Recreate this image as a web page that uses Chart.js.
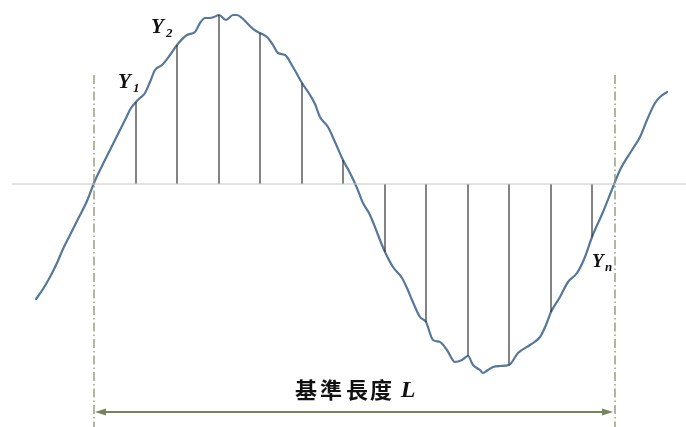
<!DOCTYPE html>
<html>
<head>
<meta charset="utf-8">
<script src="https://cdn.jsdelivr.net/npm/chart.js@4/dist/chart.umd.min.js"></script>
<style>
  html, body { margin: 0; padding: 0; background: #ffffff; }
  #wrap { width: 686px; height: 427px; position: relative; }
</style>
</head>
<body>
<div id="wrap"><canvas id="c"></canvas></div>
<script>
// Surface profile: position along the surface and height above the mean line
const profileX = [36, 43, 50, 57, 63, 70, 77, 87, 94, 102, 110, 118, 126, 131, 136, 140, 145, 150, 155, 162,
  170, 177, 187, 195, 200, 205, 210, 214, 219, 226, 233, 237, 242, 247, 252, 256, 260, 268, 273, 278,
  285, 293, 302, 310, 315, 320, 328, 335, 343, 350, 357, 363, 369, 373, 378, 385, 393, 402, 407, 412,
  420, 426, 433, 440, 447, 455, 462, 468, 473, 480, 483, 488, 493, 500, 509, 518, 530, 540, 546, 551,
  560, 568, 577, 585, 592, 603, 613, 620, 632, 640, 647, 655, 660, 667];
const profileY = [-115, -105, -93, -79, -65, -51, -37, -17, 1, 18, 34, 50, 66, 76, 82, 86, 91, 102, 114, 119,
  129, 139, 149, 152, 161, 166, 166, 167, 169, 164, 169, 169, 166, 161, 156, 153, 151, 146, 139, 131,
  129, 117, 101, 89, 80, 67, 57, 42, 24, 11, -4, -19, -29, -38, -51, -68, -83, -94, -104, -116,
  -133, -138, -156, -158, -166, -178, -176, -172, -181, -186, -189, -186, -183, -182, -181, -169, -161, -153, -141, -128,
  -113, -98, -89, -73, -53, -28, -3, 14, 34, 47, 64, 81, 87, 92];

// Sampled ordinates Y1 ... Yn within the sampling length
const sampleX = [136, 177, 219, 260, 302, 343, 385, 426, 468, 509, 551, 592];
const sampleY = [82, 139, 169, 151, 101, 24, -68, -138, -172, -181, -128, -53];

// Ends of the sampling length L
const lengthStart = 94;
const lengthEnd = 615;

// Label texts
const ordinateLabels = [['Y', '1'], ['Y', '2'], ['Y', 'n']];
const lengthLabel = ['基', '準', '長', '度'];
const lengthSymbol = 'L';

const profilePoints = profileX.map((x, i) => ({ x, y: profileY[i] }));
const ordinatePoints = [];
sampleX.forEach((x, i) => {
  ordinatePoints.push({ x, y: 0 }, { x, y: sampleY[i] }, { x, y: null });
});

const ARROW_Y = -228;
const BORDER_TOP = 109;
const BOTTOM = -243;

// Draws arrowheads on the length bar and the text labels
const annotate = {
  id: 'annotate',
  afterDatasetsDraw(chart) {
    const { ctx, scales: { x: sx, y: sy } } = chart;
    ctx.save();
    // arrowheads
    const ay = sy.getPixelForValue(ARROW_Y);
    const xl = sx.getPixelForValue(lengthStart) + 1;
    const xr = sx.getPixelForValue(lengthEnd) - 2;
    ctx.fillStyle = '#76845a';
    ctx.beginPath();
    ctx.moveTo(xl, ay); ctx.lineTo(xl + 11, ay - 3.5); ctx.lineTo(xl + 11, ay + 3.5); ctx.closePath(); ctx.fill();
    ctx.beginPath();
    ctx.moveTo(xr, ay); ctx.lineTo(xr - 11, ay - 3.5); ctx.lineTo(xr - 11, ay + 3.5); ctx.closePath(); ctx.fill();

    // ordinate labels (Y with subscript)
    const spots = [
      { x: 118, y: 96, sub: 15, subDy: 4 },
      { x: 151, y: 151, sub: 15, subDy: 4 },
      { x: 592, y: -83, sub: 13, subDy: 4 }
    ];
    ctx.fillStyle = '#111';
    ctx.textBaseline = 'alphabetic';
    ctx.textAlign = 'left';
    ordinateLabels.forEach((lab, i) => {
      const s = spots[i];
      const px = sx.getPixelForValue(s.x);
      const py = sy.getPixelForValue(s.y);
      ctx.font = i === 2 ? 'bold italic 19px "Liberation Serif"' : 'bold italic 21px "Liberation Serif"';
      ctx.fillText(lab[0], px, py);
      ctx.font = 'bold italic 13px "Liberation Serif"';
      ctx.fillText(lab[1], px + s.sub, py + s.subDy);
    });

    // sampling length caption
    ctx.textBaseline = 'middle';
    ctx.textAlign = 'center';
    ctx.font = 'bold 22px "Noto Sans CJK TC"';
    const cy = sy.getPixelForValue(-206);
    const centers = [306, 331, 357, 381];
    lengthLabel.forEach((ch, i) => ctx.fillText(ch, sx.getPixelForValue(centers[i]), cy));
    ctx.font = 'bold italic 24px "Liberation Serif"';
    ctx.fillText(lengthSymbol, sx.getPixelForValue(408), cy + 1);
    ctx.restore();
  }
};

new Chart(document.getElementById('c'), {
  type: 'scatter',
  data: {
    datasets: [
      { // mean line
        data: [{ x: 12, y: 0 }, { x: 686, y: 0 }],
        showLine: true, borderColor: '#c4c4c4', borderWidth: 1, pointRadius: 0
      },
      { // ordinates
        data: ordinatePoints,
        showLine: true, spanGaps: false, borderColor: '#333333', borderWidth: 1.2, pointRadius: 0
      },
      { // left border of sampling length
        data: [{ x: lengthStart, y: BORDER_TOP }, { x: lengthStart, y: BOTTOM }],
        showLine: true, borderColor: '#8e8e6a', borderWidth: 1.3, borderDash: [9, 3, 1.5, 3], pointRadius: 0
      },
      { // right border of sampling length
        data: [{ x: lengthEnd, y: BORDER_TOP }, { x: lengthEnd, y: BOTTOM }],
        showLine: true, borderColor: '#8e8e6a', borderWidth: 1.3, borderDash: [9, 3, 1.5, 3], pointRadius: 0
      },
      { // sampling length bar
        data: [{ x: lengthStart + 4, y: ARROW_Y }, { x: lengthEnd - 5, y: ARROW_Y }],
        showLine: true, borderColor: '#76845a', borderWidth: 2, pointRadius: 0
      },
      { // profile
        data: profilePoints,
        showLine: true, borderColor: '#56789a', borderWidth: 2.2, pointRadius: 0,
        cubicInterpolationMode: 'monotone', borderCapStyle: 'round', borderJoinStyle: 'round'
      }
    ]
  },
  options: {
    responsive: true,
    maintainAspectRatio: false,
    animation: false,
    layout: { padding: 0 },
    plugins: { legend: { display: false }, tooltip: { enabled: false } },
    scales: {
      x: { type: 'linear', min: 0, max: 686, display: false },
      y: { type: 'linear', min: -243, max: 184, display: false }
    }
  },
  plugins: [annotate]
});
</script>
</body>
</html>
